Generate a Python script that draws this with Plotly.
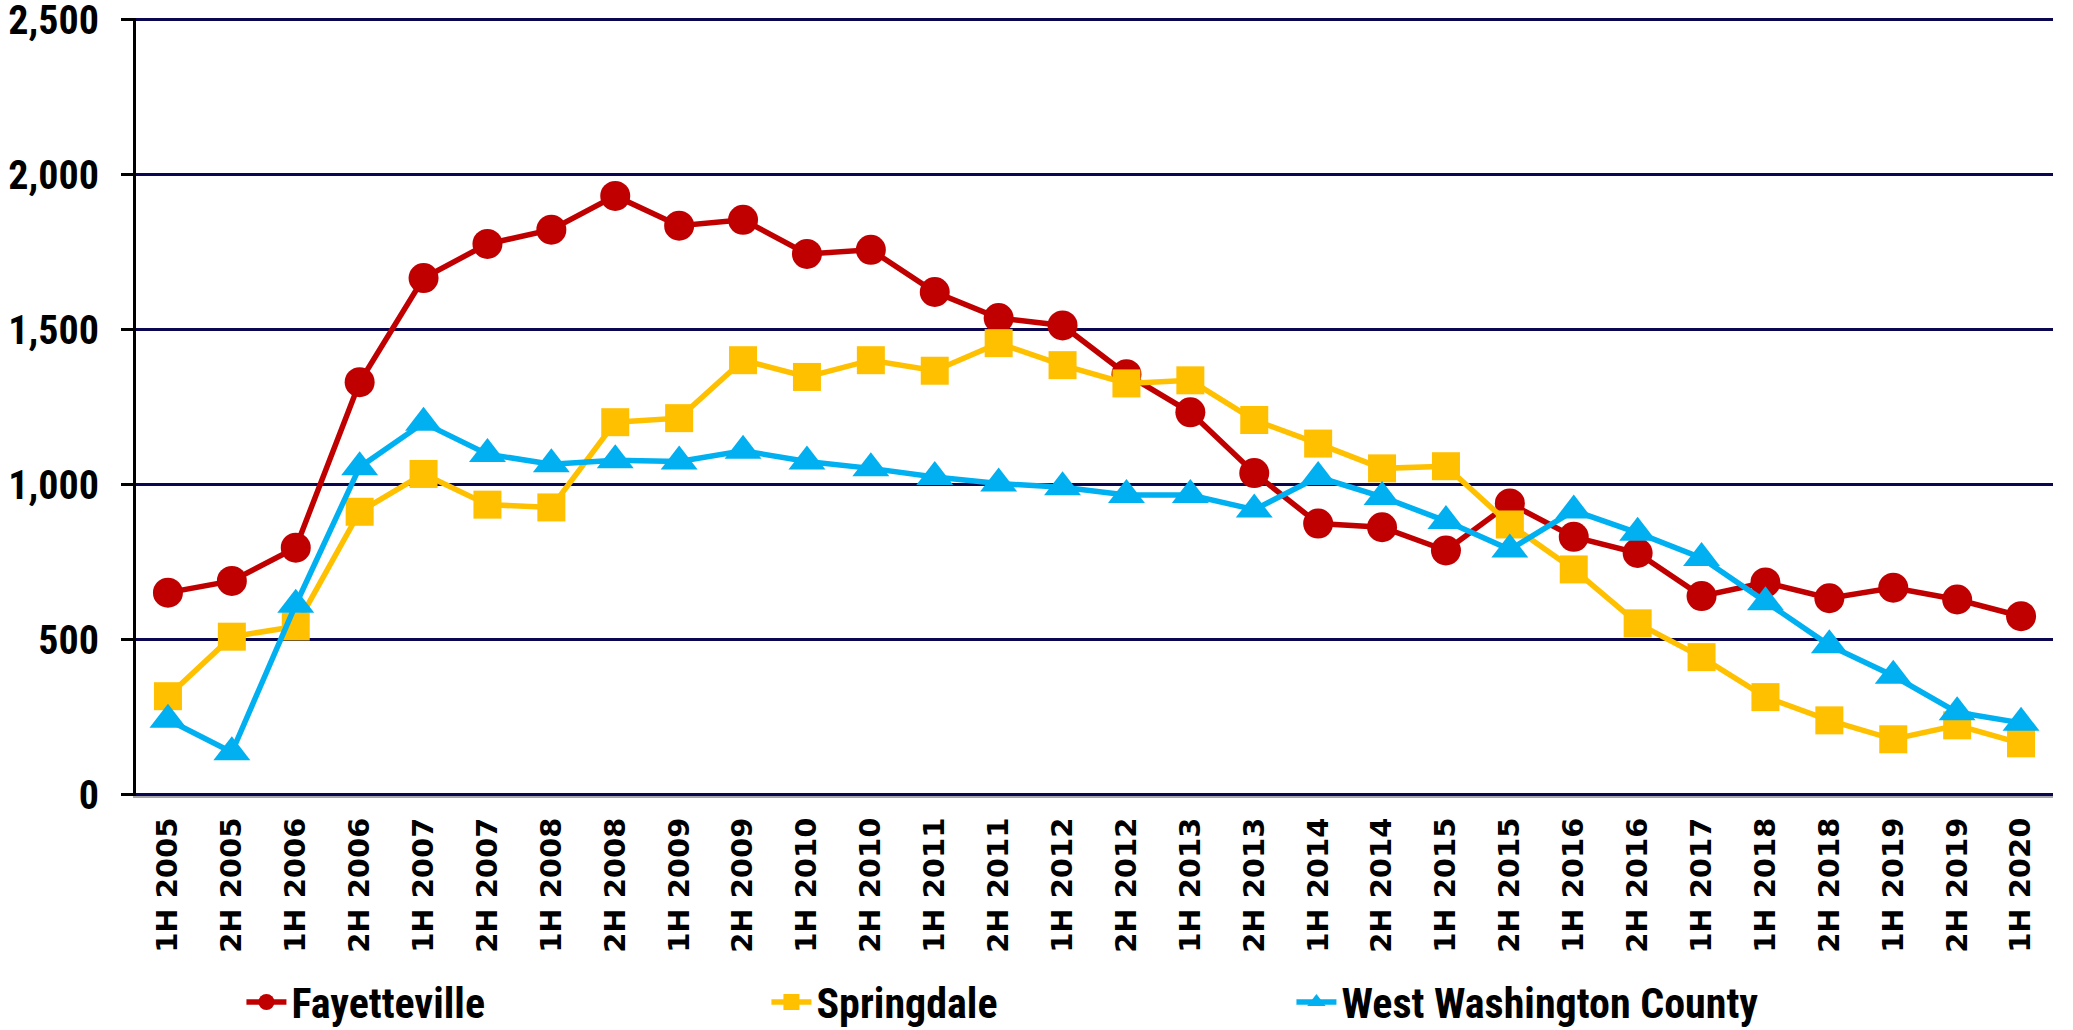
import plotly.graph_objects as go

# Half-year periods (note: 2H 2017 is not reported)
periods = [
    "1H 2005", "2H 2005", "1H 2006", "2H 2006", "1H 2007", "2H 2007",
    "1H 2008", "2H 2008", "1H 2009", "2H 2009", "1H 2010", "2H 2010",
    "1H 2011", "2H 2011", "1H 2012", "2H 2012", "1H 2013", "2H 2013",
    "1H 2014", "2H 2014", "1H 2015", "2H 2015", "1H 2016", "2H 2016",
    "1H 2017", "1H 2018", "2H 2018", "1H 2019", "2H 2019", "1H 2020",
]

fayetteville = [
    652, 690, 797, 1331, 1667, 1777, 1823, 1932, 1836, 1855,
    1745, 1758, 1622, 1538, 1514, 1357, 1234, 1038, 875, 863,
    788, 940, 832, 780, 641, 685, 634, 668, 630, 576,
]

springdale = [
    318, 510, 543, 913, 1035, 936, 927, 1202, 1215, 1402,
    1348, 1402, 1368, 1457, 1386, 1327, 1337, 1209, 1133, 1053,
    1060, 872, 727, 553, 444, 315, 240, 179, 224, 166,
]

west_washington = [
    242, 137, 613, 1057, 1200, 1099, 1066, 1079, 1075, 1110,
    1075, 1053, 1025, 1004, 992, 967, 967, 920, 1025, 961,
    883, 791, 917, 845, 764, 621, 482, 384, 266, 232,
]

y_ticks = [0, 500, 1000, 1500, 2000, 2500]
y_tick_text = ["0", "500", "1,000", "1,500", "2,000", "2,500"]

NARROW = "Liberation Sans Narrow, Arial Narrow, Roboto Condensed, sans-serif"
WIDE = "DejaVu Sans, Verdana, sans-serif"

series = [
    ("Fayetteville", fayetteville, "#C00000", "circle", 30),
    ("Springdale", springdale, "#FFC000", "square", 28),
    ("West Washington County", west_washington, "#00B0F0", "triangle-up", 32),
]

fig = go.Figure()
for name, vals, color, symbol, size in series:
    fig.add_trace(go.Scatter(
        x=periods, y=vals, name=name, mode="lines+markers",
        line=dict(color=color, width=5.5),
        marker=dict(color=color, symbol=symbol, size=size, line=dict(width=0)),
    ))

fig.update_layout(
    width=2073, height=1030,
    margin=dict(l=136, r=20, t=18, b=234),
    paper_bgcolor="white", plot_bgcolor="white",
    showlegend=True,
    legend=dict(
        orientation="h", x=0.055, xanchor="left",
        yref="container", y=0.027, yanchor="middle",
        font=dict(family=NARROW, size=42, color="black", weight="bold"),
        entrywidth=470, entrywidthmode="pixels",
        itemwidth=40, bgcolor="rgba(0,0,0,0)",
    ),
)

fig.update_xaxes(
    type="category", range=[-0.5, len(periods) - 0.5],
    tickangle=-90, tickfont=dict(family=WIDE, size=29, color="black", weight="bold"),
    showgrid=False, showline=True, linecolor="#A6A6A6", linewidth=2,
    ticks="", ticklabelstandoff=8, zeroline=False, automargin=False,
)

fig.update_yaxes(
    range=[-4, 2506], tickvals=y_ticks, ticktext=y_tick_text,
    tickfont=dict(family=NARROW, size=40, color="black", weight="bold"),
    ticklabeloverflow="allow", automargin=False,
    showgrid=True, gridcolor="#0B0650", gridwidth=3,
    showline=True, linecolor="black", linewidth=3,
    ticks="outside", ticklen=12, tickwidth=3, tickcolor="black",
    ticklabelstandoff=14, zeroline=False,
)

fig.write_html("out.html")
